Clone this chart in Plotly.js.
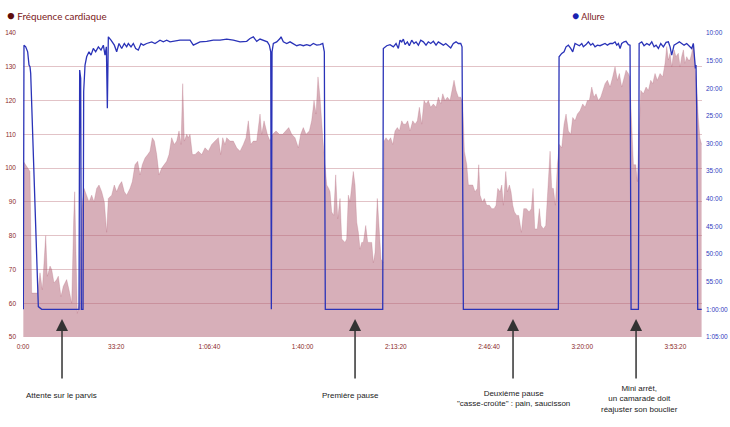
<!DOCTYPE html>
<html>
<head>
<meta charset="utf-8">
<script src="https://cdn.plot.ly/plotly-3.0.1.min.js"></script>
<style>
  html, body { margin: 0; padding: 0; background: #fff; }
  #myDiv { width: 730px; height: 427px; }
</style>
</head>
<body>
<div id="myDiv"></div>
<script>
// fréquence cardiaque (temps en secondes, bpm)
var hrTime = [7, 114, 150, 186, 315, 365, 415, 487, 522, 580, 616, 665, 723, 758, 815, 865, 937, 987, 1045, 1088,
	1109, 1137, 1166, 1209, 1259, 1309, 1366, 1416, 1474, 1523, 1581, 1631, 1689, 1745, 1795, 1831, 1903, 1959, 2010, 2067,
	2118, 2174, 2225, 2296, 2346, 2403, 2461, 2511, 2560, 2618, 2676, 2725, 2775, 2818, 2869, 2919, 2976, 3032, 3083, 3133,
	3190, 3247, 3298, 3348, 3391, 3427, 3462, 3513, 3548, 3584, 3634, 3691, 3763, 3835, 3906, 3977, 4049, 4120, 4192, 4242,
	4285, 4335, 4371, 4442, 4513, 4585, 4657, 4728, 4786, 4835, 4886, 4942, 5015, 5086, 5122, 5172, 5243, 5300, 5358, 5429,
	5500, 5573, 5644, 5702, 5766, 5837, 5908, 5959, 6015, 6073, 6144, 6194, 6245, 6288, 6330, 6373, 6432, 6481, 6517, 6560, 6588,
	6624, 6667, 6710, 6753, 6803, 6839, 6910, 6946, 6981, 7017, 7088, 7125, 7161, 7196, 7232, 7268, 7303, 7354, 7397, 7447,
	7483, 7518, 7554, 7603, 7647, 7683, 7732,
	7747, 7790, 7840, 7890, 7933, 7983, 8033, 8076, 8127, 8162, 8212, 8255, 8305, 8363, 8413, 8462, 8505, 8556,
	8605, 8648, 8698, 8748, 8806, 8863, 8913, 8964, 9007, 9056, 9106, 9163, 9199, 9249, 9292, 9342, 9393, 9436, 9471, 9522,
	9557, 9593, 9650, 9700, 9750, 9779, 9807, 9857, 9900, 9950, 10007, 10058, 10108, 10151, 10187, 10236, 10273, 10308, 10359, 10394,
	10437, 10472, 10509, 10544, 10594, 10637, 10695, 10745, 10802, 10859, 10909, 10945, 10981, 11037, 11080, 11116, 11166, 11217, 11273, 11310,
	11345, 11381, 11424, 11467, 11510, 11560, 11610, 11653, 11702, 11753, 11796, 11846, 11896, 11953, 12011, 12061, 12110, 12153, 12204, 12253,
	12296, 12346, 12397, 12440, 12490, 12540, 12597, 12654, 12704, 12754, 12797, 12847, 12897, 12940, 12990, 13018, 13055, 13098, 13148, 13183,
	13226, 13256, 13312, 13370, 13419, 13470, 13512, 13562, 13612, 13670, 13727, 13777, 13813, 13848, 13885, 13920, 13970, 14013, 14062, 14099,
	14134, 14170, 14206, 14242, 14277, 14313, 14349, 14385, 14421, 14456, 14490, 14524, 14561];
var hrBpm = [102, 100, 99, 63, 63, 69, 64, 80, 68, 71, 70, 66, 67, 68, 62, 65, 67, 64, 60, 85,
	93, 75, 57, 60, 88, 94, 92, 90, 92, 90, 94, 95, 93, 90, 81, 91, 92, 95, 93, 95,
	96, 93, 92, 94, 96, 101, 102, 98, 101, 103, 104, 105, 109, 108, 104, 98, 100, 101, 102, 104,
	109, 107, 108, 111, 107, 125, 108, 110, 109, 110, 104, 104, 105, 104, 106, 105, 107, 108, 109, 104,
	109, 107, 109, 108, 108, 106, 105, 107, 109, 114, 107, 108, 108, 116, 110, 114, 110, 108, 110, 111,
	110, 110, 111, 112, 110, 109, 106, 110, 112, 110, 111, 114, 120, 116, 127, 121, 109, 100, 95, 94, 93,
	87, 86, 98, 85, 91, 79, 78, 79, 92, 90, 99, 95, 84, 81, 76, 78, 78, 83, 78, 78,
	78, 72, 75, 91, 80, 73, 72,
	108, 109, 108, 109, 107, 111, 112, 111, 114, 113, 113, 114, 111, 114, 113, 114, 118, 113,
	120, 119, 120, 118, 119, 118, 121, 119, 122, 120, 121, 120, 123, 126, 123, 121, 121, 119, 105, 101,
	95, 95, 95, 93, 94, 101, 92, 90, 91, 89, 89, 88, 88, 89, 94, 93, 95, 89, 99, 93,
	95, 93, 89, 87, 86, 86, 81, 88, 88, 87, 88, 94, 82, 82, 88, 83, 82, 83, 95, 105,
	94, 94, 89, 101, 107, 106, 113, 116, 111, 110, 115, 114, 116, 117, 119, 118, 120, 120, 124, 121,
	122, 120, 121, 123, 125, 126, 124, 127, 130, 126, 128, 124, 127, 129, 128, 127, 115, 101, 101, 96,
	113, 123, 122, 124, 123, 126, 125, 128, 126, 128, 127, 131, 136, 132, 134, 130, 135, 133, 134, 130,
	133, 135, 131, 133, 132, 132, 134, 137, 130, 124, 115, 109, 107];

// allure (temps en secondes, minutes par km)
var paceTime = [7, 21, 58, 100, 129, 150, 165, 329, 401, 1202, 1216, 1238, 1252, 1288, 1302, 1331, 1366, 1416, 1459, 1509,
	1559, 1617, 1674, 1724, 1760, 1789, 1810, 1831, 1888, 1960, 2010, 2060, 2118, 2174, 2225, 2260, 2318, 2367, 2418, 2474,
	2532, 2582, 2654, 2762, 2833, 2940, 3011, 3083, 3155, 3262, 3369, 3477, 3584, 3655, 3727, 3798, 3942, 4084, 4228, 4371,
	4513, 4657, 4800, 4871, 4942, 5015, 5086, 5157, 5243, 5286, 5316, 5329, 5344, 5372, 5444, 5515, 5537, 5586, 5659, 5730,
	5801, 5874, 5944, 6015, 6088, 6159, 6230, 6303, 6374, 6432, 6466, 6487, 7719, 7732, 7805, 7876, 7947, 8005, 8054, 8090,
	8127, 8162, 8198, 8248, 8290, 8341, 8391, 8434, 8484, 8535, 8591, 8648, 8698, 8748, 8806, 8863, 8913, 8964, 9020, 9071,
	9127, 9178, 9234, 9292, 9342, 9393, 9421, 9449, 11488, 11503, 11560, 11610, 11653, 11702, 11753, 11796, 11846, 11896, 11939, 11990,
	12024, 12082, 12131, 12183, 12226, 12275, 12325, 12382, 12440, 12490, 12540, 12597, 12654, 12704, 12741, 12776, 12812, 12847, 12897, 12940,
	12990, 13026, 13048, 13206, 13221, 13277, 13327, 13385, 13441, 13492, 13541, 13584, 13634, 13685, 13741, 13799, 13848, 13885, 13920, 13970,
	14028, 14084, 14134, 14185, 14242, 14299, 14349, 14385, 14406, 14428, 14442, 14456, 14478, 14564];
var paceMin = [60, 12.2, 12.5, 13.4, 15.8, 16.1, 17.3, 59.5, 60, 60, 16.7, 18.2, 60, 60, 20.6, 15.8, 14.3, 13.4, 14.0, 12.8,
	13.4, 12.5, 13.1, 12.2, 14.0, 12.5, 23.6, 10.7, 11.3, 12.2, 13.4, 11.9, 12.8, 11.9, 12.5, 11.9, 12.5, 11.9, 12.8, 13.1,
	11.9, 12.2, 11.9, 11.6, 11.9, 11.3, 11.6, 11.3, 11.6, 11.4, 11.3, 11.3, 11.3, 12.2, 11.9, 11.6, 11.5, 11.3, 11.3, 11.1,
	11.3, 11.6, 11.5, 11.0, 10.7, 11.5, 11.1, 11.3, 11.6, 12.2, 13.4, 60, 13.4, 11.9, 11.6, 11.0, 10.7, 11.6, 11.9, 11.6,
	11.9, 12.3, 12.1, 12.3, 12.1, 12.3, 11.9, 12.2, 12.1, 11.9, 13.4, 60, 60, 12.8, 12.3, 12.1, 12.5, 11.9, 12.8, 11.3,
	11.6, 11.1, 12.1, 11.6, 12.3, 11.3, 11.9, 11.6, 12.2, 11.3, 11.6, 12.2, 11.6, 11.9, 11.5, 12.2, 11.6, 11.9, 12.2, 11.9,
	12.3, 12.7, 11.9, 11.6, 11.9, 11.9, 12.5, 60, 60, 14.3, 13.7, 13.4, 12.5, 12.2, 12.8, 13.4, 11.9, 12.2, 12.3, 11.9,
	12.5, 12.1, 11.6, 12.2, 11.9, 12.5, 12.2, 12.3, 12.1, 11.9, 12.2, 11.9, 11.9, 11.6, 12.2, 11.9, 12.8, 11.9, 11.6, 11.5,
	12.1, 12.2, 60, 60, 11.9, 11.6, 12.3, 11.9, 12.2, 11.6, 12.5, 12.2, 12.8, 11.9, 12.5, 11.7, 11.6, 12.5, 14.0, 12.2,
	11.9, 11.6, 11.9, 12.2, 11.9, 12.3, 12.8, 11.9, 15.2, 16.4, 15.8, 23.6, 60, 60];

var timeTicks = [0, 2000, 4000, 6000, 8000, 10000, 12000, 14000];
var timeLabels = ['0:00', '33:20', '1:06:40', '1:40:00', '2:13:20', '2:46:40', '3:20:00', '3:53:20'];
var paceTicks = [10, 15, 20, 25, 30, 35, 40, 45, 50, 55, 60, 65];
var paceLabels = ['10:00', '15:00', '20:00', '25:00', '30:00', '35:00', '40:00', '45:00', '50:00', '55:00', '1:00:00', '1:05:00'];

// repères sous le graphique
var noteTimes = [837, 7125, 10515, 13155];
var noteTextTimes = [826, 7017, 10515, 13219];
var noteTexts = ['Attente sur le parvis', 'Première pause',
	'Deuxième pause<br>"casse-croûte" : pain, saucisson',
	'Mini arrêt,<br>un camarade doit<br>réajuster son bouclier'];
var noteY = [-0.191, -0.191, -0.202, -0.204];

var red = '#8b2a2a';
var blue = '#3040c0';

var heart = {
	x: hrTime,
	y: hrBpm,
	type: 'scatter',
	mode: 'lines',
	fill: 'tozeroy',
	fillcolor: 'rgba(175, 95, 115, 0.5)',
	line: {color: 'rgba(175, 95, 115, 0.5)', width: 0.5},
	hoverinfo: 'skip'
};

var pace = {
	x: paceTime,
	y: paceMin,
	yaxis: 'y2',
	type: 'scatter',
	mode: 'lines',
	line: {color: '#2a33b8', width: 1.3},
	hoverinfo: 'skip'
};

var annotations = [
	{
		xref: 'paper', yref: 'paper', x: -0.026, y: 1.059, xanchor: 'left', yanchor: 'middle',
		showarrow: false,
		text: '<span style="color:#5e0c0c;font-size:13px">●</span> Fréquence cardiaque',
		font: {family: 'Lato, sans-serif', size: 9.8, color: '#7a2020'}
	},
	{
		xref: 'paper', yref: 'paper', x: 0.806, y: 1.059, xanchor: 'left', yanchor: 'middle',
		showarrow: false,
		text: '<span style="color:#1a22b0;font-size:12px">●</span> Allure',
		font: {family: 'Lato, sans-serif', size: 9, color: '#7a2020'}
	}
];

for (var i = 0; i < noteTimes.length; i++) {
	annotations.push({
		xref: 'x', yref: 'paper', x: noteTimes[i], y: 0.059,
		ax: 0, ay: 61, text: '',
		showarrow: true, arrowhead: 2, arrowsize: 1.6, arrowwidth: 1.5, arrowcolor: '#333'
	});
	annotations.push({
		xref: 'x', yref: 'paper', x: noteTextTimes[i], y: noteY[i],
		xanchor: 'center', yanchor: 'middle', showarrow: false,
		text: noteTexts[i],
		font: {family: 'Liberation Sans, Arial, sans-serif', size: 8, color: '#222'}
	});
}

var layout = {
	width: 730,
	height: 427,
	margin: {l: 23, r: 28, t: 33, b: 90},
	showlegend: false,
	xaxis: {
		range: [0, 14570],
		tickvals: timeTicks,
		ticktext: timeLabels,
		showgrid: false,
		zeroline: false,
		showline: false,
		ticks: '',
		ticklabelstandoff: 4,
		tickfont: {family: 'Liberation Sans, Arial, sans-serif', size: 6.5, color: red}
	},
	yaxis: {
		range: [50, 140],
		dtick: 10,
		tick0: 50,
		showgrid: true,
		gridcolor: '#e2c3c7',
		gridwidth: 1,
		zeroline: false,
		showline: false,
		ticks: '',
		ticklabelstandoff: 6,
		tickfont: {family: 'Liberation Sans, Arial, sans-serif', size: 6.5, color: red}
	},
	yaxis2: {
		overlaying: 'y',
		side: 'right',
		range: [65, 10],
		tickvals: paceTicks,
		ticktext: paceLabels,
		showgrid: false,
		zeroline: false,
		showline: false,
		ticks: '',
		ticklabelstandoff: 3,
		tickfont: {family: 'Liberation Sans, Arial, sans-serif', size: 6.5, color: blue}
	},
	annotations: annotations,
	plot_bgcolor: '#ffffff',
	paper_bgcolor: '#ffffff'
};

Plotly.newPlot('myDiv', [heart, pace], layout, {displayModeBar: false, staticPlot: true});
</script>
</body>
</html>
